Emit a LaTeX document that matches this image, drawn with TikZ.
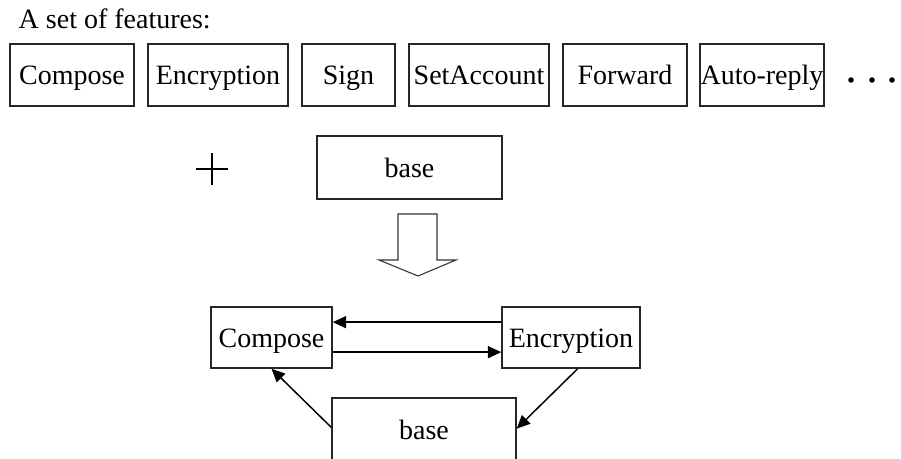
\documentclass[tikz,border=0pt]{standalone}
\usepackage{fontspec}
\setmainfont{Liberation Serif}
\usetikzlibrary{arrows.meta,positioning}
\tikzset{
    featbox/.style={draw=black!85, line width=1.1pt, inner sep=0pt, minimum height=46.5pt,
        text height=15pt, text depth=0pt},
    link/.style={-{Triangle[length=10pt,width=9pt]}, line width=1.1pt}
}
\begin{document}
\begin{tikzpicture}[x=0.75pt, y=-0.75pt, every node/.style={font=\fontsize{21}{25}\selectfont}]
                \clip (0,0) rectangle (901,459);
                \fill[white] (0,0) rectangle (901,459);
                % the features
                \node[anchor=base west] (title) at (14,29) {A set of features:};
                \node[featbox, minimum width=93pt] (fcompose) at (72,75) {Compose};
                \node[featbox, minimum width=105pt] (fencrypt) at (218,75) {Encryption};
                \node[featbox, minimum width=69.75pt] (fsign) at (348.5,75) {Sign};
                \node[featbox, minimum width=105pt] (faccount) at (479,75) {SetAccount};
                \node[featbox, minimum width=93pt] (fforward) at (625,75) {Forward};
                \node[featbox, minimum width=93pt] (freply) at (762,75) {Auto-reply};
                \fill (851,80) circle (2.8);
                \fill (872,80) circle (2.8);
                \fill (892,80) circle (2.8);
                % plus the base
                \draw [line width=1.1pt] (196,169) -- (228,169);
                \draw [line width=1.1pt] (212,153) -- (212,185);
                \node[featbox, minimum width=138.75pt, minimum height=47.25pt] (base) at (409.5,167.5) {base};
                \draw [line width=0.8pt, draw=black!80] (398,214) -- (437,214) -- (437,260) -- (456,260)
                    -- (418,276) -- (379,260) -- (398,260) -- cycle;
                % the composed product
                \node[featbox, minimum width=90.75pt, minimum height=45.75pt] (compose) at (271.5,337.5) {Compose};
                \node[featbox, minimum width=103.5pt, minimum height=45.75pt] (encrypt) at (571,337.5) {Encryption};
                \node[featbox, minimum width=138pt, minimum height=48pt] (core) at (424,430) {base};
                \draw [link] ([yshift=11.5pt]encrypt.west) -- ([yshift=11.5pt]compose.east);
                \draw [link] ([yshift=-11pt]compose.east) -- ([yshift=-11pt]encrypt.west);
                \draw [link] ([yshift=2pt]core.west) -- (compose.south);
                \draw [link] ([xshift=5pt]encrypt.south) -- ([yshift=1pt]core.east);
            \end{tikzpicture}
\end{document}
